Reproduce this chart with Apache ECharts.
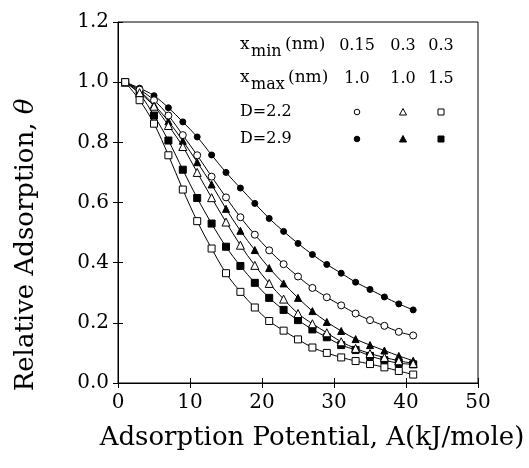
<!DOCTYPE html>
<html>
<head>
<meta charset="utf-8">
<script src="https://cdn.jsdelivr.net/npm/echarts@6/dist/echarts.min.js"></script>
<style>
  html, body { margin: 0; padding: 0; background: #fff; }
  #chart { width: 529px; height: 468px; }
</style>
</head>
<body>
<div id="chart"></div>
<script>
// adsorption potential A (kJ/mole)
const potential = [1, 3, 5, 7, 9, 11, 13, 15, 17, 19, 21, 23, 25, 27, 29, 31, 33, 35, 37, 39, 41]

// D=2.2 (open) and D=2.9 (filled); xmin/xmax: circle 0.15/1.0, triangle 0.3/1.0, square 0.3/1.5
const circleOpen   = [1.0, 0.975, 0.94, 0.889, 0.824, 0.757, 0.686, 0.617, 0.551, 0.493, 0.441, 0.395, 0.354, 0.316, 0.285, 0.258, 0.231, 0.209, 0.19, 0.17, 0.158]
const circleFilled = [1.0, 0.98, 0.955, 0.915, 0.868, 0.818, 0.758, 0.70, 0.648, 0.597, 0.547, 0.504, 0.464, 0.427, 0.394, 0.365, 0.335, 0.311, 0.286, 0.263, 0.243]
const triOpen      = [1.0, 0.965, 0.92, 0.856, 0.786, 0.70, 0.616, 0.535, 0.458, 0.391, 0.331, 0.279, 0.231, 0.197, 0.167, 0.137, 0.115, 0.098, 0.085, 0.074, 0.065]
const triFilled    = [1.0, 0.97, 0.925, 0.87, 0.805, 0.734, 0.66, 0.579, 0.506, 0.442, 0.382, 0.331, 0.283, 0.239, 0.203, 0.173, 0.146, 0.126, 0.108, 0.09, 0.074]
const squareOpen   = [1.0, 0.94, 0.862, 0.757, 0.643, 0.538, 0.447, 0.365, 0.303, 0.251, 0.206, 0.174, 0.145, 0.118, 0.10, 0.085, 0.073, 0.063, 0.052, 0.04, 0.028]
const squareFilled = [1.0, 0.96, 0.889, 0.806, 0.709, 0.615, 0.53, 0.453, 0.389, 0.333, 0.283, 0.243, 0.209, 0.178, 0.152, 0.126, 0.11, 0.09, 0.076, 0.066, 0.062]

const xminLabels = ['0.15', '0.3', '0.3']
const xmaxLabels = ['1.0', '1.0', '1.5']
const dLabels = ['D=2.2', 'D=2.9']

const FONT = '"DejaVu Serif", serif'
const chart = echarts.init(document.getElementById('chart'))

function makeSeries(name, values, symbol, filled, size) {
    return {
        name: name,
        type: 'line',
        data: potential.map((a, i) => [a, values[i]]),
        smooth: 0.35,
        symbol: symbol,
        symbolSize: size,
        showAllSymbol: true,
        lineStyle: { color: '#000', width: 1 },
        itemStyle: { color: filled ? '#000' : '#fff', borderColor: '#000', borderWidth: 1 },
        z: filled ? 3 : 4,
        animation: false
    }
}

// legend table built from graphic elements
const colX = [357, 403, 441]
const legend = []
function txt(x, y, text, size, align) {
    return { type: 'text', x: x, y: y, style: { text: text, font: size + 'px ' + FONT, fill: '#000', textAlign: align || 'left', textVerticalAlign: 'middle', align: align || 'left', verticalAlign: 'middle' } }
}
legend.push(txt(240, 45, 'x', 17))
legend.push(txt(251, 52, 'min', 16))
legend.push(txt(285, 45, '(nm)', 17))
legend.push(txt(240, 78, 'x', 17))
legend.push(txt(251, 85, 'max', 16))
legend.push(txt(288, 78, '(nm)', 17))
xminLabels.forEach((t, i) => legend.push(txt(colX[i], 46, t, 16, 'center')))
xmaxLabels.forEach((t, i) => legend.push(txt(colX[i], 79, t, 16, 'center')))
legend.push(txt(240, 112, dLabels[0], 16))
legend.push(txt(240, 139, dLabels[1], 16))
const rowY = [112, 139]
rowY.forEach((y, r) => {
    const fill = r === 0 ? '#fff' : '#000'
    const st = { fill: fill, stroke: '#000', lineWidth: 1 }
    legend.push({ type: 'circle', shape: { cx: colX[0], cy: y, r: 2.8 }, style: st })
    legend.push({ type: 'polygon', shape: { points: [[colX[1], y - 3.5], [colX[1] - 3.5, y + 3], [colX[1] + 3.5, y + 3]] }, style: st })
    legend.push({ type: 'rect', shape: { x: colX[2] - 3, y: y - 3, width: 6, height: 6 }, style: st })
})

const option = {
    backgroundColor: '#fff',
    animation: false,
    grid: { left: 118, top: 22, width: 360, height: 361, show: true, borderColor: '#000', borderWidth: 1 },
    xAxis: [{
        type: 'value', min: 0, max: 50, interval: 10,
        axisLine: { show: true, onZero: false, lineStyle: { color: '#000', width: 1 } },
        axisTick: { show: true, length: 5, lineStyle: { color: '#000' } },
        axisLabel: { color: '#000', fontSize: 20, fontFamily: FONT, margin: 10 },
        splitLine: { show: false }
    }, {
        type: 'value', min: 0, max: 50, interval: 10, position: 'bottom',
        axisLine: { show: false },
        axisTick: { show: true, inside: true, length: 5, lineStyle: { color: '#000' } },
        axisLabel: { show: false },
        splitLine: { show: false }
    }],
    yAxis: [{
        type: 'value', min: 0, max: 1.2, interval: 0.2,
        axisLine: { show: true, onZero: false, lineStyle: { color: '#000', width: 1 } },
        axisTick: { show: true, length: 5, lineStyle: { color: '#000' } },
        axisLabel: { color: '#000', fontSize: 20, fontFamily: FONT, margin: 9, formatter: v => v.toFixed(1) },
        splitLine: { show: false }
    }, {
        type: 'value', min: 0, max: 1.2, interval: 0.2, position: 'left',
        axisLine: { show: false },
        axisTick: { show: true, inside: true, length: 5, lineStyle: { color: '#000' } },
        axisLabel: { show: false },
        splitLine: { show: false }
    }],
    graphic: [
        {
            type: 'text', x: 312, y: 438,
            style: { text: 'Adsorption Potential, A(kJ/mole)', font: '26px ' + FONT, fill: '#000', textAlign: 'center', textVerticalAlign: 'middle', align: 'center', verticalAlign: 'middle' }
        },
        {
            type: 'text', x: 26, y: 245, rotation: Math.PI / 2,
            style: {
                text: 'Relative Adsorption, {i|θ}', font: '26px ' + FONT, fill: '#000',
                textAlign: 'center', textVerticalAlign: 'middle', align: 'center', verticalAlign: 'middle',
                rich: { i: { font: 'italic 26px ' + FONT, fill: '#000' } }
            }
        }
    ].concat(legend),
    series: [
        makeSeries('circle filled', circleFilled, 'circle', true, 6),
        makeSeries('circle open', circleOpen, 'circle', false, 7),
        makeSeries('triangle filled', triFilled, 'triangle', true, 7),
        makeSeries('triangle open', triOpen, 'triangle', false, 8),
        makeSeries('square filled', squareFilled, 'rect', true, 7),
        makeSeries('square open', squareOpen, 'rect', false, 7)
    ]
}
chart.setOption(option)
</script>
</body>
</html>
